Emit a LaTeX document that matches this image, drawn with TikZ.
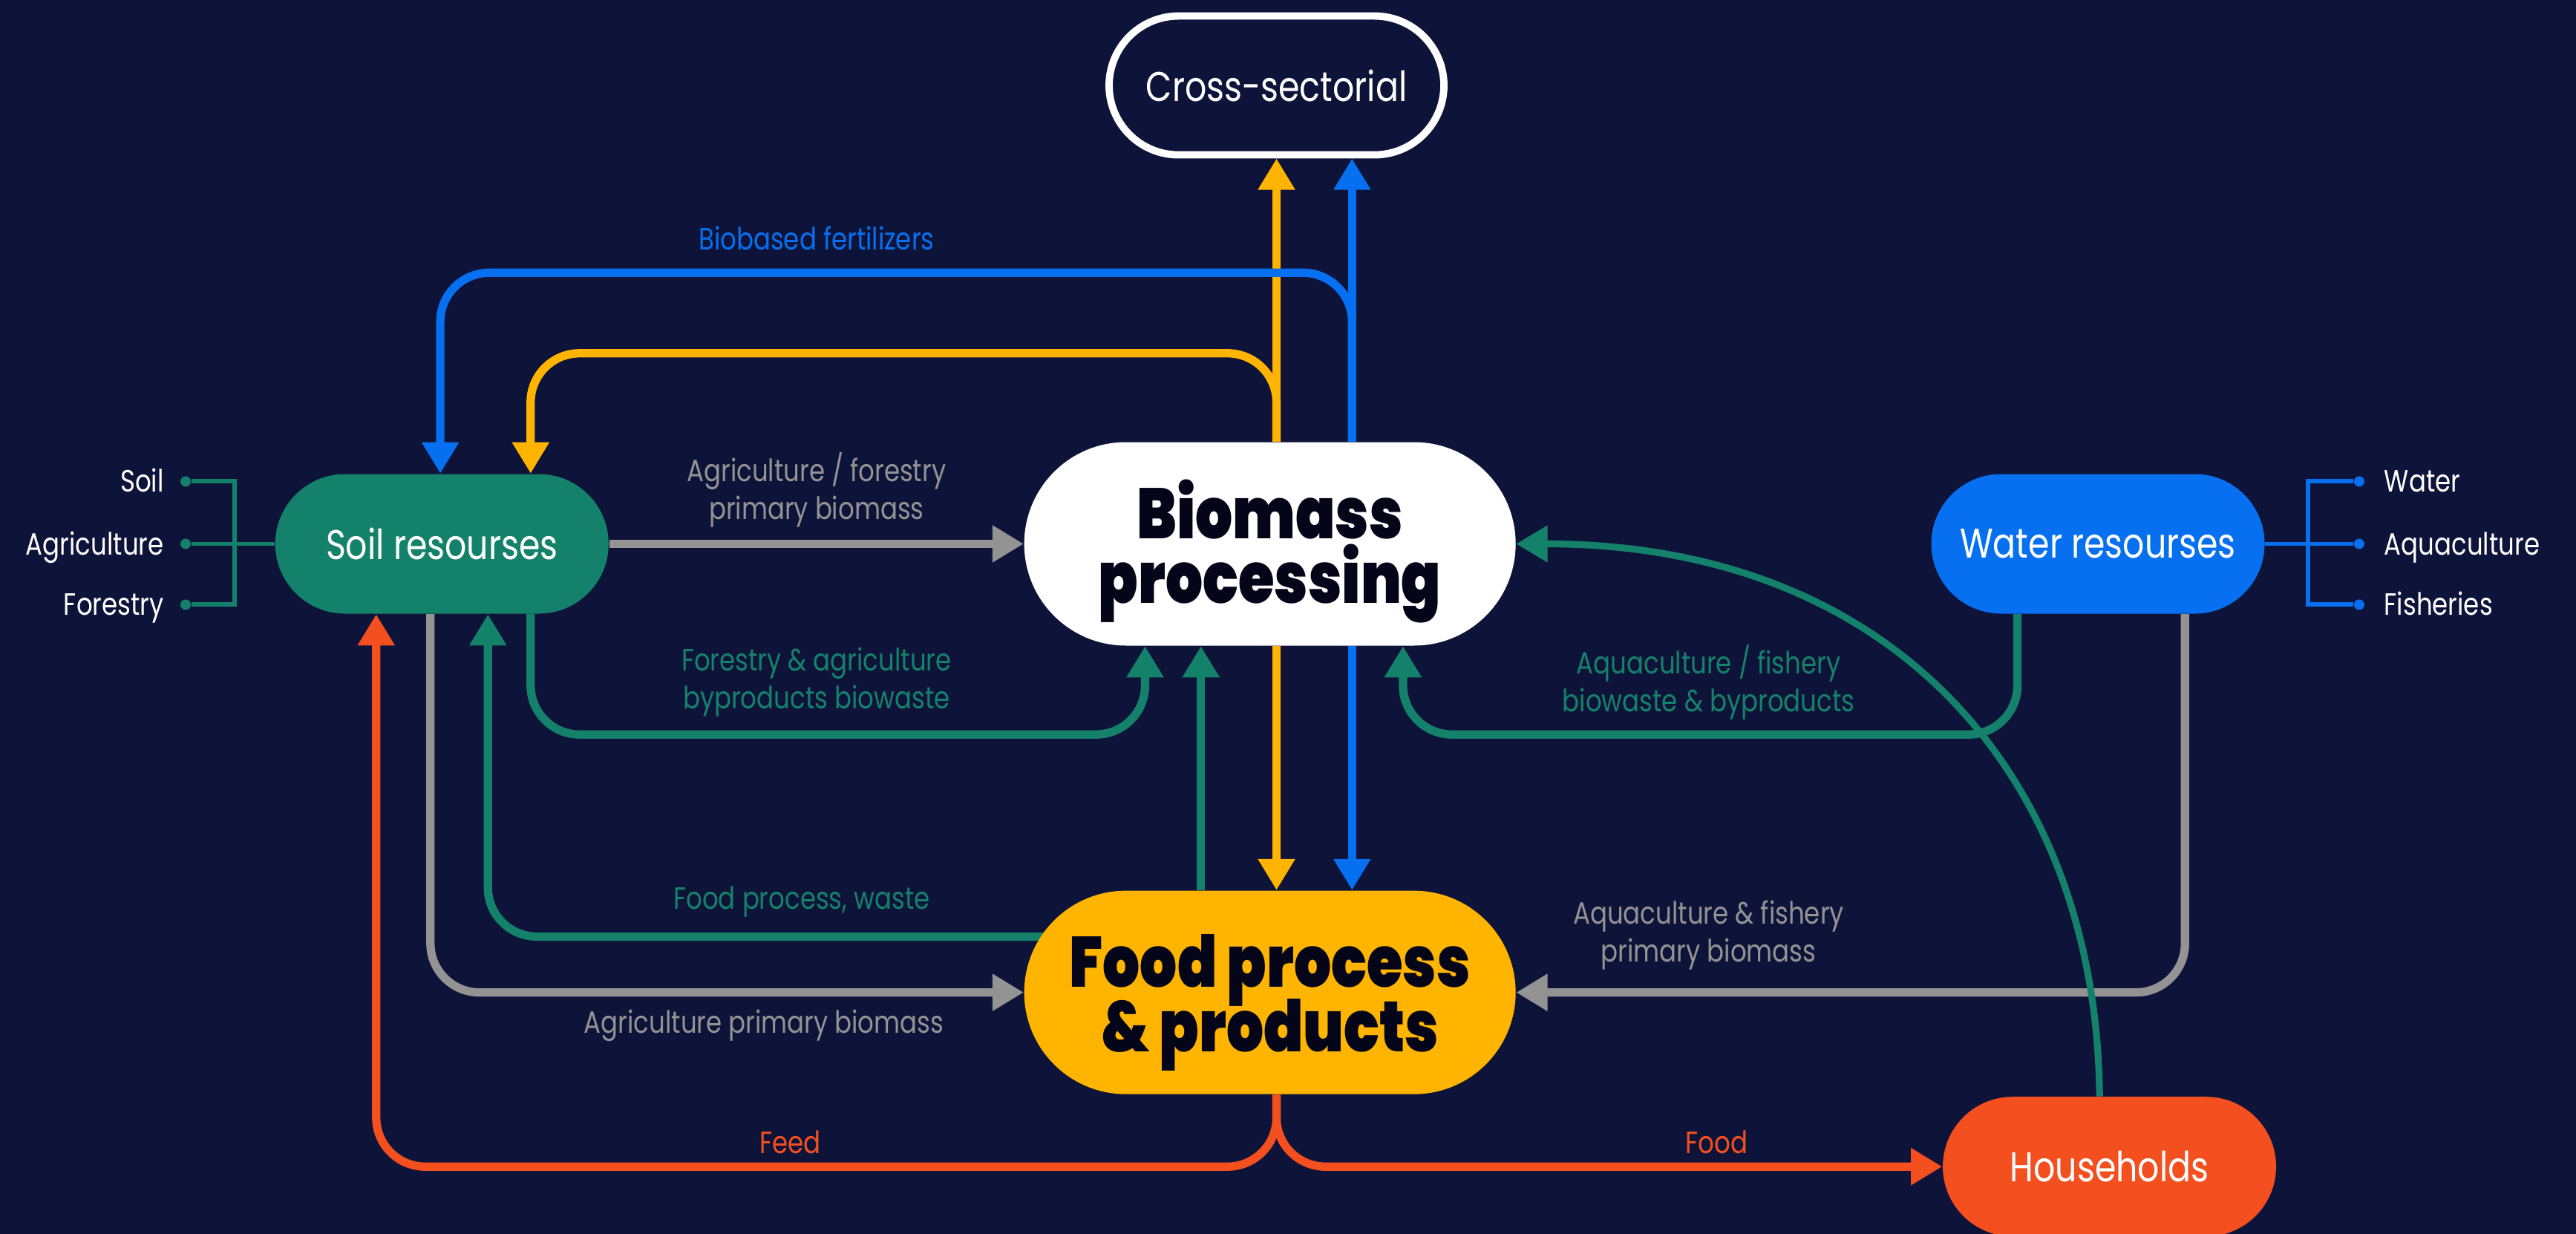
\documentclass[tikz,border=0pt]{standalone}
\usepackage{fontspec}
\setmainfont{Poppins}[FakeStretch=0.82]
\newfontfamily\heavyfont{Poppins Black}[FakeStretch=0.82]
\newcommand\tightlead{\lineskiplimit=-20pt\relax}
\usetikzlibrary{arrows.meta}
\pgfdeclarelayer{bg}
\pgfdeclarelayer{wires}
\pgfsetlayers{bg,wires,main}

\definecolor{navy}{HTML}{0E1339}
\definecolor{grn}{HTML}{14826A}
\definecolor{blu}{HTML}{0670F0}
\definecolor{ylw}{HTML}{FFB500}
\definecolor{org}{HTML}{F44F1E}
\definecolor{gry}{HTML}{939393}
\definecolor{ink}{HTML}{05051A}

\begin{document}
\begin{tikzpicture}[x=0.2213mm, y=-0.2213mm,
    box/.style={rectangle, rounded corners=9.4mm, minimum width=44.9mm, minimum height=18.8mm,
        inner sep=0pt, text=white, font=\fontsize{15.9}{18}\selectfont},
    outbox/.style={box, draw=white, line width=2.8pt, rounded corners=9.35mm,
        minimum width=45.1mm, minimum height=18.7mm},
    bigbox/.style={box, rounded corners=13.7mm, minimum width=66.2mm, minimum height=27.4mm,
        text=ink, align=center, text height=48pt, text depth=2.6pt,
        font=\fontsize{27.3}{24.7}\selectfont\heavyfont\tightlead},
    flow/.style={line width=3.2pt, rounded corners=6.6mm, -{Triangle[length=12pt,width=13.5pt]}},
    leg/.style={line width=1.7pt},
    dot/.style={circle, inner sep=0pt, minimum size=1.4mm},
    item/.style={font=\fontsize{11.8}{14.5}\selectfont, text=white, inner xsep=0pt,
        text height=8.3pt, text depth=0pt},
    lbl/.style={font=\fontsize{11.8}{14.5}\selectfont, align=center}]
    \begin{pgfonlayer}{bg}
        \fill[navy] (0,0) rectangle (1568,751);
    \end{pgfonlayer}
    \useasboundingbox (0,0) rectangle (1568,751);

    % boxes
    \node[outbox]           (cross) at (777,52)  {Cross-sectorial};
    \node[box, fill=grn]    (soil)  at (269,331) {Soil resourses};
    \node[box, fill=blu]    (water) at (1277,331) {Water resourses};
    \node[bigbox, fill=white] (bio) at (773,331) {Biomass\\processing};
    \node[bigbox, fill=ylw] (food)  at (773,604) {Food process\\\& products};
    \node[box, fill=org]    (house) at (1284,710) {Households};

    % legends
    \foreach \y [count=\i] in {293,331,368} {
        \node[dot, fill=grn] (sd\i) at (113,\y)  {};
        \node[dot, fill=blu] (wd\i) at (1436,\y) {};
    }
    \node[item, anchor=east] (soilitem)  at (100,293) {Soil};
    \node[item, anchor=east] (agriitem)  at (100,331) {Agriculture};
    \node[item, anchor=east] (foreitem)  at (100,368) {Forestry};
    \node[item, anchor=west] (wateritem) at (1451,293) {Water};
    \node[item, anchor=west] (aquaitem)  at (1451,331) {Aquaculture};
    \node[item, anchor=west] (fishitem)  at (1451,368) {Fisheries};
    \draw[leg, grn] (sd1) -- (143,293) -- (143,368) -- (sd3);
    \draw[leg, grn] (sd2) -- (soil.west);
    \draw[leg, blu] (wd1) -- (1405,293) -- (1405,368) -- (wd3);
    \draw[leg, blu] (water.east) -- (wd2);

    % flow labels
    \node[lbl, text=blu] (fertlbl) at (497,145) {Biobased fertilizers};
    \node[lbl, text=gry] (agfolbl) at (497,298) {Agriculture / forestry\\primary biomass};
    \node[lbl, text=grn] (fabwlbl) at (497,415) {Forestry \& agriculture\\byproducts biowaste};
    \node[lbl, text=grn] (aqbwlbl) at (1040,415) {Aquaculture / fishery\\biowaste \& byproducts};
    \node[lbl, text=grn] (wastelbl) at (488,549) {Food process, waste};
    \node[lbl, text=gry] (aqpblbl) at (1040,569) {Aquaculture \& fishery\\primary biomass};
    \node[lbl, text=gry] (agpblbl) at (465,624) {Agriculture primary biomass};
    \node[lbl, text=org] (feedlbl) at (481,695) {Feed};
    \node[lbl, text=org] (foodlbl) at (1045,695) {Food};

    \begin{pgfonlayer}{wires}
        % up to cross-sectorial
        \draw[flow, ylw] (bio.north -| 777,0) -- (cross.south -| 777,0);
        \draw[flow, blu] (bio.north -| 823,0) -- (cross.south -| 823,0);
        % back to soil
        \draw[flow, blu] (bio.north -| 823,0) -- (823,166) -| (soil.north -| 268,0);
        \draw[flow, ylw] (bio.north -| 777,0) -- (777,215) -| (soil.north -| 323,0);
        % soil and biomass
        \draw[flow, gry] (soil.east) -- (bio.west);
        \draw[flow, grn] (soil.south -| 323,0) -- (323,447) -| (bio.south -| 697,0);
        % biomass and food
        \draw[flow, grn] (food.north -| 731,0) -- (bio.south -| 731,0);
        \draw[flow, ylw] (bio.south -| 777,0) -- (food.north -| 777,0);
        \draw[flow, blu] (bio.south -| 823,0) -- (food.north -| 823,0);
        % water
        \draw[flow, grn] (water.south -| 1228,0) -- (1228,447) -| (bio.south -| 854,0);
        \draw[flow, gry] (water.south -| 1330,0) |- (food.east);
        % soil and food
        \draw[flow, gry] (soil.south -| 262,0) |- (food.west);
        \draw[flow, grn] (food.center |- 0,570) -| (soil.south -| 297,0);
        % feed and food
        \draw[flow, org] (food.south -| 777,0) -- (777,710) -| (soil.south -| 229,0);
        \draw[flow, org] (food.south -| 777,0) |- (house.west);
        % households back to biomass
        \draw[flow, grn, line width=2.6pt] (house.north -| 1278,0) .. controls (1276,470) and (1150,331) .. (bio.east);
    \end{pgfonlayer}
\end{tikzpicture}
\end{document}
